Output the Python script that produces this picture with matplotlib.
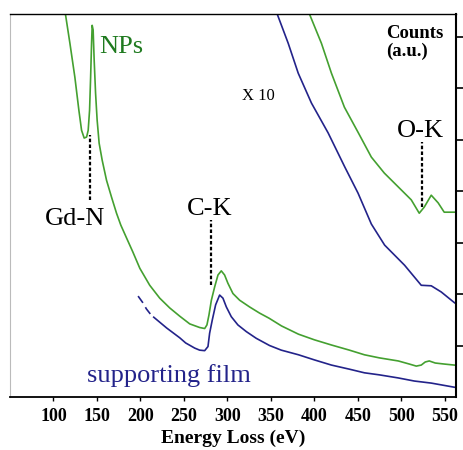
import matplotlib
matplotlib.use('Agg')
import matplotlib.pyplot as plt

plt.rcParams['font.family'] = ['Liberation Serif', 'DejaVu Serif']

# spectra, energy loss in eV, counts in arbitrary units
np_ev = [112.6, 113.9, 118.9, 124.6, 129.2, 132.3, 135.3, 138.1, 139.9, 141.5, 142.7, 143.8,
         144.5, 145.6, 146.8, 148.4, 150.2, 152.5, 156.0, 161.0, 166.8, 172.5, 177.4, 184.0,
         191.2, 199.3, 210.7, 222.2, 233.7, 245.2, 256.7, 268.1, 273.9, 276.5, 278.8, 281.6,
         285.4, 289.2, 293.0, 296.8, 300.6, 306.4, 314.1, 325.5, 337.0, 348, 362.3, 381.8,
         400.2, 419.7, 440.4, 457.6, 474.8, 496.6, 509.3, 517.3, 523, 527.6, 532.2, 539.1,
         549.4, 561]
np_counts = [7.71, 7.42, 6.87, 6.21, 5.57, 5.18, 5.03, 5.05, 5.18, 5.57, 6.21, 6.87,
             7.22, 7.13, 6.54, 5.90, 5.38, 4.93, 4.60, 4.21, 3.88, 3.57, 3.34, 3.09,
             2.82, 2.50, 2.17, 1.92, 1.73, 1.57, 1.42, 1.35, 1.33, 1.40, 1.59, 1.88,
             2.14, 2.37, 2.45, 2.37, 2.21, 2.01, 1.88, 1.75, 1.63, 1.53, 1.38, 1.22,
             1.11, 1.01, 0.91, 0.82, 0.76, 0.70, 0.64, 0.60, 0.62, 0.68, 0.70, 0.66,
             0.64, 0.62]

film_ev = [215.3, 230.2, 245.2, 252, 262.4, 268.1, 273.9, 277.7, 279.6, 282.7, 286.5, 291.1,
           294.9, 298.8, 304.5, 312.1, 321.8, 333.2, 348.5, 362, 381.8, 400.2, 419.7, 440.4,
           457.6, 474.8, 496.6, 515, 534.5, 561]
film_counts = [1.55, 1.34, 1.15, 1.05, 0.95, 0.91, 0.90, 0.98, 1.24, 1.50, 1.79, 1.98,
               1.92, 1.75, 1.56, 1.40, 1.27, 1.14, 1.00, 0.91, 0.82, 0.72, 0.62, 0.54,
               0.47, 0.43, 0.37, 0.31, 0.27, 0.19]
# start of the film spectrum (drawn dashed)
film_start_ev = [197.3, 202.4, 206.9, 211.5, 215.3]
film_start_counts = [1.96, 1.84, 1.71, 1.61, 1.55]

# x10 magnified tails
np10_ev = [392, 394.4, 408.2, 419.7, 434.6, 450.7, 465.6, 480.5, 496.6, 511.5, 520.7, 526.5,
           534.5, 542.5, 549.4, 562]
np10_counts = [7.6, 7.44, 6.87, 6.29, 5.63, 5.13, 4.66, 4.35, 4.08, 3.83, 3.57, 3.69,
               3.92, 3.77, 3.59, 3.59]
film10_ev = [355, 357.3, 370, 381.5, 396.7, 415.9, 435, 450.3, 465.6, 480.9, 503.8, 523,
             534.5, 546, 561.3]
film10_counts = [7.6, 7.44, 6.87, 6.29, 5.71, 5.13, 4.47, 3.96, 3.36, 2.95, 2.56, 2.17,
                 2.16, 2.04, 1.83]

# edge markers: label, position, dashed span
edges = ['Gd-N', 'C-K', 'O-K']
edge_ev = [141.8, 280.8, 523.5]
edge_lo = [3.83, 2.17, 3.69]
edge_hi = [5.09, 3.44, 4.95]
edge_text_ev = [90, 253, 494.5]
edge_text_y = [3.34, 3.53, 5.05]

xticks = [100, 150, 200, 250, 300, 350, 400, 450, 500, 550]

green = '#44a030'
blue = '#23238a'

fig = plt.figure(figsize=(4.64, 4.50), dpi=100)
ax = fig.add_axes([0.0216, 0.1178, 0.9612, 0.8511])

ax.plot(np_ev, np_counts, color=green, lw=1.2)
ax.plot(np10_ev, np10_counts, color=green, lw=1.2)
ax.plot(film_ev, film_counts, color=blue, lw=1.2)
ax.plot(film_start_ev, film_start_counts, color=blue, lw=1.2, dashes=(5, 3))
ax.plot(film10_ev, film10_counts, color=blue, lw=1.2)

for name, e, lo, hi, tx, ty in zip(edges, edge_ev, edge_lo, edge_hi, edge_text_ev, edge_text_y):
    ax.plot([e, e], [lo, hi], color='black', lw=1.6, dashes=(1.6, 1.0))
    ax.text(tx, ty, name, fontsize=19, color='black', ha='left', va='baseline')

ax.text(153, 6.68, 'NPs', fontsize=19, color='#1f7a1f', ha='left', va='baseline')
ax.text(138, 0.29, 'supporting film', fontsize=19, color=blue, ha='left', va='baseline')
ax.text(317, 5.77, 'X 10', fontsize=12, color='black', ha='left', va='baseline')
ax.text(483, 7.22, 'Counts\n(a.u.)', fontsize=13.5, fontweight='bold', ha='left', va='top',
        linespacing=1.0)

ax.set_xlim(50, 563)
ax.set_ylim(0, 7.44)
ax.set_xticks(xticks)
ax.set_xticklabels([str(t) for t in xticks], fontsize=13, fontweight='bold')
ax.set_xlabel('Energy Loss (eV)', fontsize=14, fontweight='bold', labelpad=3)

ax.yaxis.tick_right()
ax.set_yticks([1, 2, 3, 4, 5, 6, 7])
ax.set_yticklabels([])
ax.tick_params(axis='y', direction='out', length=6, width=1.2)
ax.tick_params(axis='x', direction='out', length=3, width=1.0, pad=5)

ax.spines['left'].set_color('#bbbbbb')
ax.spines['left'].set_linewidth(0.8)
ax.spines['right'].set_linewidth(1.5)
ax.spines['bottom'].set_linewidth(1.3)
ax.spines['top'].set_linewidth(1.0)

fig.savefig('out.png', dpi=100)
